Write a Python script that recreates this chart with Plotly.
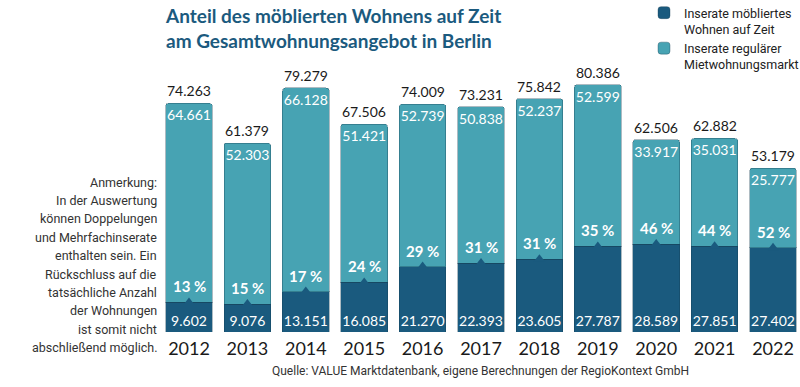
import plotly.graph_objects as go

years = [2012, 2013, 2014, 2015, 2016, 2017, 2018, 2019, 2020, 2021, 2022]
moebliert = [9602, 9076, 13151, 16085, 21270, 22393, 23605, 27787, 28589, 27851, 27402]
regulaer = [64661, 52303, 66128, 51421, 52739, 50838, 52237, 52599, 33917, 35031, 25777]
gesamt = [74263, 61379, 79279, 67506, 74009, 73231, 75842, 80386, 62506, 62882, 53179]
anteil = [13, 15, 17, 24, 29, 31, 31, 35, 46, 44, 52]
note_lines = ["Anmerkung:", "In der Auswertung", "können Doppelungen", "und Mehrfachinserate",
              "enthalten sein. Ein", "Rückschluss auf die", "tatsächliche Anzahl",
              "der Wohnungen", "ist somit nicht", "abschließend möglich."]

DARK = "#1a5a7e"
LIGHT = "#47a3b3"
NUMFONT = "Lato, Open Sans, sans-serif"
NARROW = "Liberation Sans Narrow, Roboto, sans-serif"

W, H = 800, 387
ML, MR, MT, MB = 150, 0, 60, 55
PW, PH = W - ML - MR, H - MT - MB


def px(xp):
    return (xp - ML) / PW


def py(yp):
    return (H - MB - yp) / PH


def de(n):
    return f"{n:,}".replace(",", ".")


fig = go.Figure()
fig.add_trace(go.Bar(
    x=years, y=moebliert, name="Inserate möbliertes<br>Wohnen auf Zeit",
    marker=dict(color=DARK, line=dict(color="rgba(20,60,80,0.35)", width=1)),
    width=0.8,
    text=[de(v) for v in moebliert], textposition="inside", insidetextanchor="start",
    textfont=dict(color="white", size=14, family=NUMFONT), textangle=0,
    constraintext="none", hoverinfo="skip",
))
fig.add_trace(go.Bar(
    x=years, y=regulaer, name="Inserate regulärer<br>Mietwohnungsmarkt",
    marker=dict(color=LIGHT, line=dict(color="rgba(20,60,80,0.35)", width=1)),
    width=0.8,
    text=[de(v) for v in regulaer], textposition="inside", insidetextanchor="end",
    textfont=dict(color="white", size=14, family=NUMFONT), textangle=0,
    constraintext="none", hoverinfo="skip",
))
# notch marks at the top of the dark segment
fig.add_trace(go.Scatter(
    x=years, y=moebliert, mode="markers",
    marker=dict(symbol="triangle-up", size=10, color=DARK),
    showlegend=False, hoverinfo="skip",
))

annotations = []
for yr, tot, dk, pct in zip(years, gesamt, moebliert, anteil):
    annotations.append(dict(
        x=yr, y=tot, xref="x", yref="y", text=de(tot), showarrow=False,
        yanchor="bottom", yshift=2,
        font=dict(size=14, color="#1a1a1a", family=NUMFONT),
    ))
    annotations.append(dict(
        x=yr, y=dk, xref="x", yref="y", text=f"<b>{pct} %</b>", showarrow=False,
        yanchor="bottom", yshift=5,
        font=dict(size=15, color="white", family=NUMFONT),
    ))

title_text = "<b>Anteil des möblierten Wohnens auf Zeit<br>am Gesamtwohnungsangebot in Berlin</b>"
annotations.append(dict(
    x=px(163), y=py(2), xref="paper", yref="paper", text=title_text, showarrow=False,
    xanchor="left", yanchor="top", align="left",
    font=dict(size=19, color="#1b5a7e", family=NUMFONT),
))

for i, line in enumerate(note_lines):
    annotations.append(dict(
        x=px(159), y=py(182 + i * 18.4), xref="paper", yref="paper", text=line,
        showarrow=False, xanchor="right", yanchor="middle", align="right",
        font=dict(size=12.5, color="#333", family=NARROW),
    ))
annotations.append(dict(
    x=px(480), y=py(371), xref="paper", yref="paper",
    text="Quelle: VALUE Marktdatenbank, eigene Berechnungen der RegioKontext GmbH",
    showarrow=False, xanchor="center", yanchor="middle",
    font=dict(size=12, color="#333", family=NARROW),
))

fig.update_layout(
    width=W, height=H,
    margin=dict(l=ML, r=MR, t=MT, b=MB, autoexpand=False),
    paper_bgcolor="white", plot_bgcolor="white",
    barmode="stack", barcornerradius=3,
    showlegend=True,
    legend=dict(x=px(644), y=py(-2), xanchor="left", yanchor="top", valign="top",
                traceorder="normal", itemwidth=30,
                font=dict(size=12.5, color="#222", family=NARROW),
                tracegroupgap=1, bgcolor="rgba(0,0,0,0)"),
    xaxis=dict(range=[2011.332, 2022.462], tickvals=years, ticktext=[str(y) for y in years],
               showgrid=False, zeroline=False, showline=False, ticks="",
               tickfont=dict(size=18, color="#1a1a1a", family=NUMFONT), ticklabelstandoff=4),
    yaxis=dict(range=[0, 88370], visible=False),
    font=dict(family=NUMFONT),
    annotations=annotations,
)

fig.write_html("out.html", config={"displayModeBar": False},
               post_script="document.body.style.margin='0px';")
